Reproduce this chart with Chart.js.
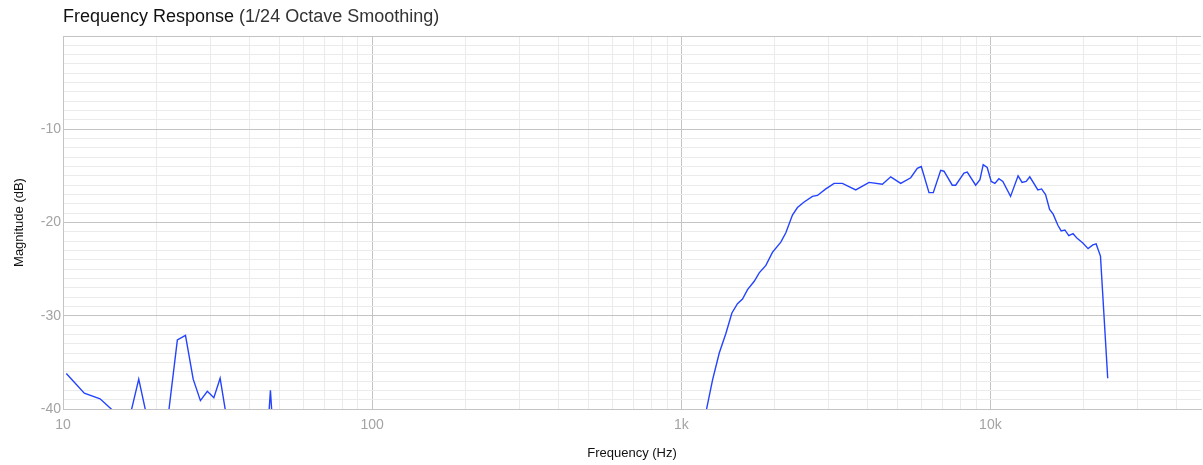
<!DOCTYPE html>
<html>
<head>
<meta charset="utf-8">
<script src="https://cdn.jsdelivr.net/npm/chart.js@4"></script>
<style>
    body { margin: 0; background: #fff; }
    #wrap { position: relative; width: 1203px; height: 465px; }
    #title {
        position: absolute; left: 63px; top: 6px;
        font-family: "Liberation Sans", Arial, sans-serif; font-size: 18px; color: #111;
    }
    #title span { color: #333; }
</style>
</head>
<body>
<div id="wrap">
    <div id="title">Frequency Response <span>(1/24 Octave Smoothing)</span></div>
    <canvas id="fr-chart"></canvas>
</div>
<script>
// frequency points (Hz) and smoothed magnitude (dB)
const freqHz = [10.25, 11.72, 13.18, 14.65, 16.11, 17.58, 19.04, 20.51, 21.97, 23.44, 24.90, 26.37,
    27.83, 29.30, 30.76, 32.23, 33.69, 35.16, 36.62, 43.95, 45.41, 46.88, 48.34, 1150,
    1211, 1262, 1327, 1394, 1458, 1520, 1578, 1638, 1722, 1787, 1878, 1972, 2099, 2179, 2289, 2376,
    2497, 2656, 2757, 2935, 3122, 3320, 3668, 4050, 4472, 4760, 5127, 5524, 5801, 5976, 6329, 6535,
    6905, 7077, 7527, 7720, 8212, 8416, 8960, 9250, 9478, 9764, 10060, 10340, 10650, 10970, 11620,
    12290, 12660, 13050, 13410, 14240, 14640, 15080, 15540, 15960, 16530, 16940, 17410, 17930,
    18510, 19080, 19910, 20700, 21450, 21980, 22700, 23960];
const magDb = [-36.2, -38.3, -38.9, -40.3, -42.1, -36.8, -42.1, -43.5, -40.3, -32.6, -32.1, -36.8,
    -39.1, -38.1, -38.8, -36.7, -40.6, -44, -46, -46, -45, -38.0, -45, -43.6,
    -39.8, -36.9, -34.0, -31.9, -29.7, -28.7, -28.2, -27.2, -26.3, -25.4, -24.6, -23.2, -22.1, -21.1, -19.2, -18.4,
    -17.8, -17.2, -17.1, -16.4, -15.8, -15.8, -16.5, -15.7, -15.9, -15.1, -15.8, -15.2, -14.2, -14.0, -16.8, -16.8,
    -14.4, -14.5, -16.0, -16.0, -14.7, -14.6, -16.0, -15.4, -13.8, -14.1, -15.6, -15.8, -15.3, -15.6, -17.2,
    -15.0, -15.7, -15.6, -15.1, -16.5, -16.4, -17.0, -18.6, -19.1, -20.3, -20.9, -20.8, -21.4,
    -21.2, -21.7, -22.2, -22.8, -22.4, -22.3, -23.6, -36.7];

// x ticks: decades get a label, the rest are minor grid lines
const decades = [10, 100, 1000, 10000];
const decadeLabels = ["10", "100", "1k", "10k"];
const yLabels = [-10, -20, -30, -40];

const MAJOR = "#c4c4c4";
const MINOR = "#ebebeb";
const FONT = "'Liberation Sans', Arial, sans-serif";

const points = freqHz.map((f, i) => ({ x: f, y: magDb[i] }));

new Chart(document.getElementById("fr-chart"), {
    type: "line",
    data: {
        datasets: [{
            label: "Magnitude",
            data: points,
            borderColor: "#2343ff",
            borderWidth: 1.4,
            pointRadius: 0,
            tension: 0,
            fill: false
        }]
    },
    options: {
        responsive: true,
        maintainAspectRatio: false,
        animation: false,
        layout: { padding: { top: 36, right: 2 } },
        plugins: {
            legend: { display: false },
            tooltip: { enabled: false }
        },
        scales: {
            x: {
                type: "logarithmic",
                min: 10,
                max: 48000,
                afterBuildTicks: (scale) => {
                    const ticks = [];
                    decades.forEach(d => {
                        for (let m = 1; m <= 9; m++) {
                            if (m * d <= 48000) ticks.push({ value: m * d });
                        }
                    });
                    scale.ticks = ticks;
                },
                afterFit: (scale) => { scale.height = 56; },
                ticks: {
                    autoSkip: false,
                    maxRotation: 0,
                    padding: 8,
                    color: "#a3a3a3",
                    font: { family: FONT, size: 14 },
                    callback: (v) => {
                        const i = decades.indexOf(v);
                        return i >= 0 ? decadeLabels[i] : "";
                    }
                },
                grid: {
                    drawTicks: false,
                    color: (ctx) => decades.includes(ctx.tick && ctx.tick.value) ? MAJOR : MINOR
                },
                border: { color: MAJOR },
                title: {
                    display: true,
                    text: "Frequency (Hz)",
                    color: "#111",
                    font: { family: FONT, size: 13 },
                    padding: { top: 9 }
                }
            },
            y: {
                min: -40,
                max: 0,
                afterFit: (scale) => { scale.width = 63; },
                ticks: {
                    stepSize: 1,
                    maxTicksLimit: 100,
                    autoSkip: false,
                    padding: 2,
                    color: "#a3a3a3",
                    font: { family: FONT, size: 14 },
                    callback: (v) => yLabels.includes(v) ? String(v) : ""
                },
                grid: {
                    drawTicks: false,
                    color: (ctx) => ctx.tick && ctx.tick.value % 10 === 0 ? MAJOR : MINOR
                },
                border: { color: MAJOR },
                title: {
                    display: true,
                    text: "Magnitude (dB)",
                    color: "#111",
                    font: { family: FONT, size: 13 },
                    padding: { top: 12, bottom: 0 }
                }
            }
        }
    }
});
</script>
</body>
</html>
